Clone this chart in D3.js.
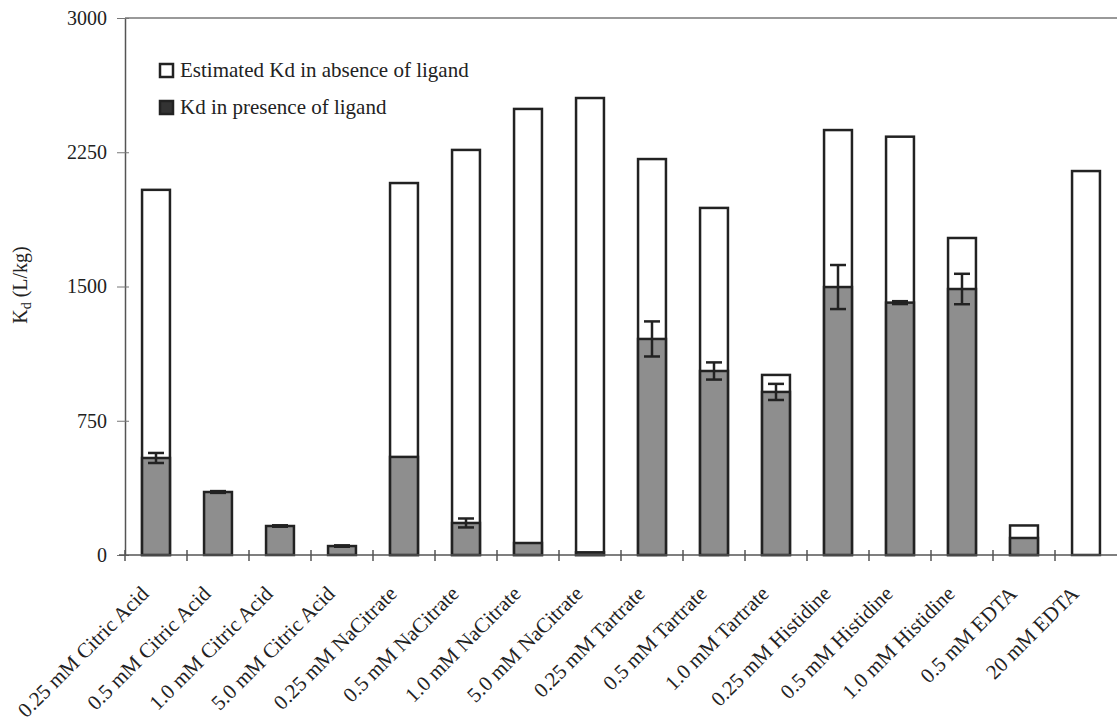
<!DOCTYPE html>
<html>
<head>
<meta charset="utf-8">
<script src="https://cdn.jsdelivr.net/npm/d3@7"></script>
<style>
  html, body { margin: 0; padding: 0; background: #fff; }
  svg { display: block; }
  svg text { font-family: "Liberation Serif", "DejaVu Serif", serif; }
</style>
</head>
<body>
<svg id="chart" width="1117" height="725" font-family="Liberation Serif, serif"></svg>
<script>
// Distribution coefficients with and without complexing ligand
const categories = [
  "0.25 mM Citric Acid", "0.5 mM Citric Acid", "1.0 mM Citric Acid", "5.0 mM Citric Acid",
  "0.25 mM NaCitrate", "0.5 mM NaCitrate", "1.0 mM NaCitrate", "5.0 mM NaCitrate",
  "0.25 mM Tartrate", "0.5 mM Tartrate", "1.0 mM Tartrate",
  "0.25 mM Histidine", "0.5 mM Histidine", "1.0 mM Histidine",
  "0.5 mM EDTA", "20 mM EDTA"
];
// Estimated Kd in absence of ligand (null = not reported)
const kdAbsence = [2040, null, null, null, 2078, 2263, 2492, 2553, 2212, 1939, 1006, 2374, 2337, 1771, 165, 2145];
// Kd in presence of ligand
const kdPresence = [542, 352, 162, 50, 548, 179, 67, 15, 1207, 1028, 911, 1497, 1410, 1486, 95, 0];
// Standard deviation of Kd in presence of ligand
const kdError = [28, 5, 4, 4, 0, 25, 0, 0, 98, 48, 45, 123, 8, 85, 0, 0];
const yTicks = [0, 750, 1500, 2250, 3000];

const FONT = "Liberation Serif, serif";
const svg = d3.select("#chart");
const m = { left: 125, right: 0, top: 18, bottom: 170 };
const W = 1117, H = 725;

const x = d3.scaleBand().domain(categories).range([m.left, W - m.right]).paddingInner(0.55).paddingOuter(0.275);
const y = d3.scaleLinear().domain([0, 3000]).range([H - m.bottom, m.top]);
const band = d3.scaleBand().domain(categories).range([m.left, W - m.right]);

// Frame: top border line
svg.append("line")
  .attr("x1", m.left).attr("x2", W).attr("y1", y(3000)).attr("y2", y(3000))
  .attr("stroke", "#777").attr("stroke-width", 1.5);

// Bars in absence of ligand (white, behind)
svg.append("g").selectAll("rect")
  .data(categories.map((c, i) => ({ c, v: kdAbsence[i] })).filter(d => d.v != null))
  .join("rect")
  .attr("x", d => x(d.c)).attr("width", x.bandwidth())
  .attr("y", d => y(d.v)).attr("height", d => y(0) - y(d.v))
  .attr("fill", "#fff").attr("stroke", "#222").attr("stroke-width", 2.5);

// Bars in presence of ligand (grey, in front)
svg.append("g").selectAll("rect")
  .data(categories.map((c, i) => ({ c, v: kdPresence[i] })).filter(d => d.v > 0))
  .join("rect")
  .attr("x", d => x(d.c)).attr("width", x.bandwidth())
  .attr("y", d => y(d.v)).attr("height", d => y(0) - y(d.v))
  .attr("fill", "#8e8e8e").attr("stroke", "#222").attr("stroke-width", 2.5);

// Error bars
const eb = svg.append("g").attr("stroke", "#222").attr("stroke-width", 2.5);
categories.forEach((c, i) => {
  const e = kdError[i];
  if (!e) return;
  const cx = x(c) + x.bandwidth() / 2, v = kdPresence[i];
  const half = 8;
  eb.append("line").attr("x1", cx).attr("x2", cx).attr("y1", y(v + e)).attr("y2", y(v - e));
  eb.append("line").attr("x1", cx - half).attr("x2", cx + half).attr("y1", y(v + e)).attr("y2", y(v + e));
  eb.append("line").attr("x1", cx - half).attr("x2", cx + half).attr("y1", y(v - e)).attr("y2", y(v - e));
});

// Y axis
const yAxis = d3.axisLeft(y).tickValues(yTicks).tickFormat(d3.format("d"))
  .tickSize(8).tickSizeOuter(0).tickPadding(10);
const gy = svg.append("g").attr("transform", `translate(${m.left},0)`).call(yAxis)
  .attr("font-family", FONT);
gy.select(".domain").attr("stroke", "#555").attr("stroke-width", 1.5);
gy.selectAll(".tick line").attr("stroke", "#777").attr("x2", -8).attr("x1", 4);
gy.selectAll(".tick text").attr("font-size", 20).attr("fill", "#222")
  .attr("font-family", FONT);

// X axis with ticks between categories
const gx = svg.append("g").attr("transform", `translate(0,${y(0)})`);
gx.append("line").attr("x1", m.left - 6).attr("x2", W).attr("y1", 0).attr("y2", 0)
  .attr("stroke", "#555").attr("stroke-width", 1.5);
gx.selectAll("line.sep")
  .data(categories)
  .join("line").attr("class", "sep")
  .attr("x1", d => band(d)).attr("x2", d => band(d))
  .attr("y1", -5).attr("y2", 6)
  .attr("stroke", "#555").attr("stroke-width", 1.5);

// Category labels, rotated
gx.selectAll("text")
  .data(categories)
  .join("text")
  .attr("transform", d => `translate(${x(d) + x.bandwidth() / 2 - 6},${40}) rotate(-45)`)
  .attr("text-anchor", "end")
  .attr("font-family", FONT)
  .attr("font-size", 21)
  .attr("fill", "#222")
  .text(d => d);

// Y axis title
const yt = svg.append("text")
  .attr("transform", "translate(27,285) rotate(-90)")
  .attr("text-anchor", "middle")
  .attr("font-family", FONT)
  .attr("font-size", 20)
  .attr("fill", "#222");
yt.append("tspan").text("K");
yt.append("tspan").attr("font-size", 14).attr("dy", 4).text("d");
yt.append("tspan").attr("dy", -4).text(" (L/kg)");

// Legend
const legend = [
  { label: "Estimated Kd in absence of ligand", fill: "#fff" },
  { label: "Kd in presence of ligand", fill: "#333" }
];
const lg = svg.append("g").attr("transform", "translate(160,63)");
legend.forEach((d, i) => {
  const row = lg.append("g").attr("transform", `translate(0,${i * 37})`);
  row.append("rect").attr("x", 0).attr("y", 1).attr("width", 13).attr("height", 13)
    .attr("fill", d.fill).attr("stroke", "#222").attr("stroke-width", 2.5);
  row.append("text").attr("x", 20).attr("y", 14).attr("font-family", FONT)
    .attr("font-size", 21).attr("fill", "#222").text(d.label);
});
</script>
</body>
</html>
